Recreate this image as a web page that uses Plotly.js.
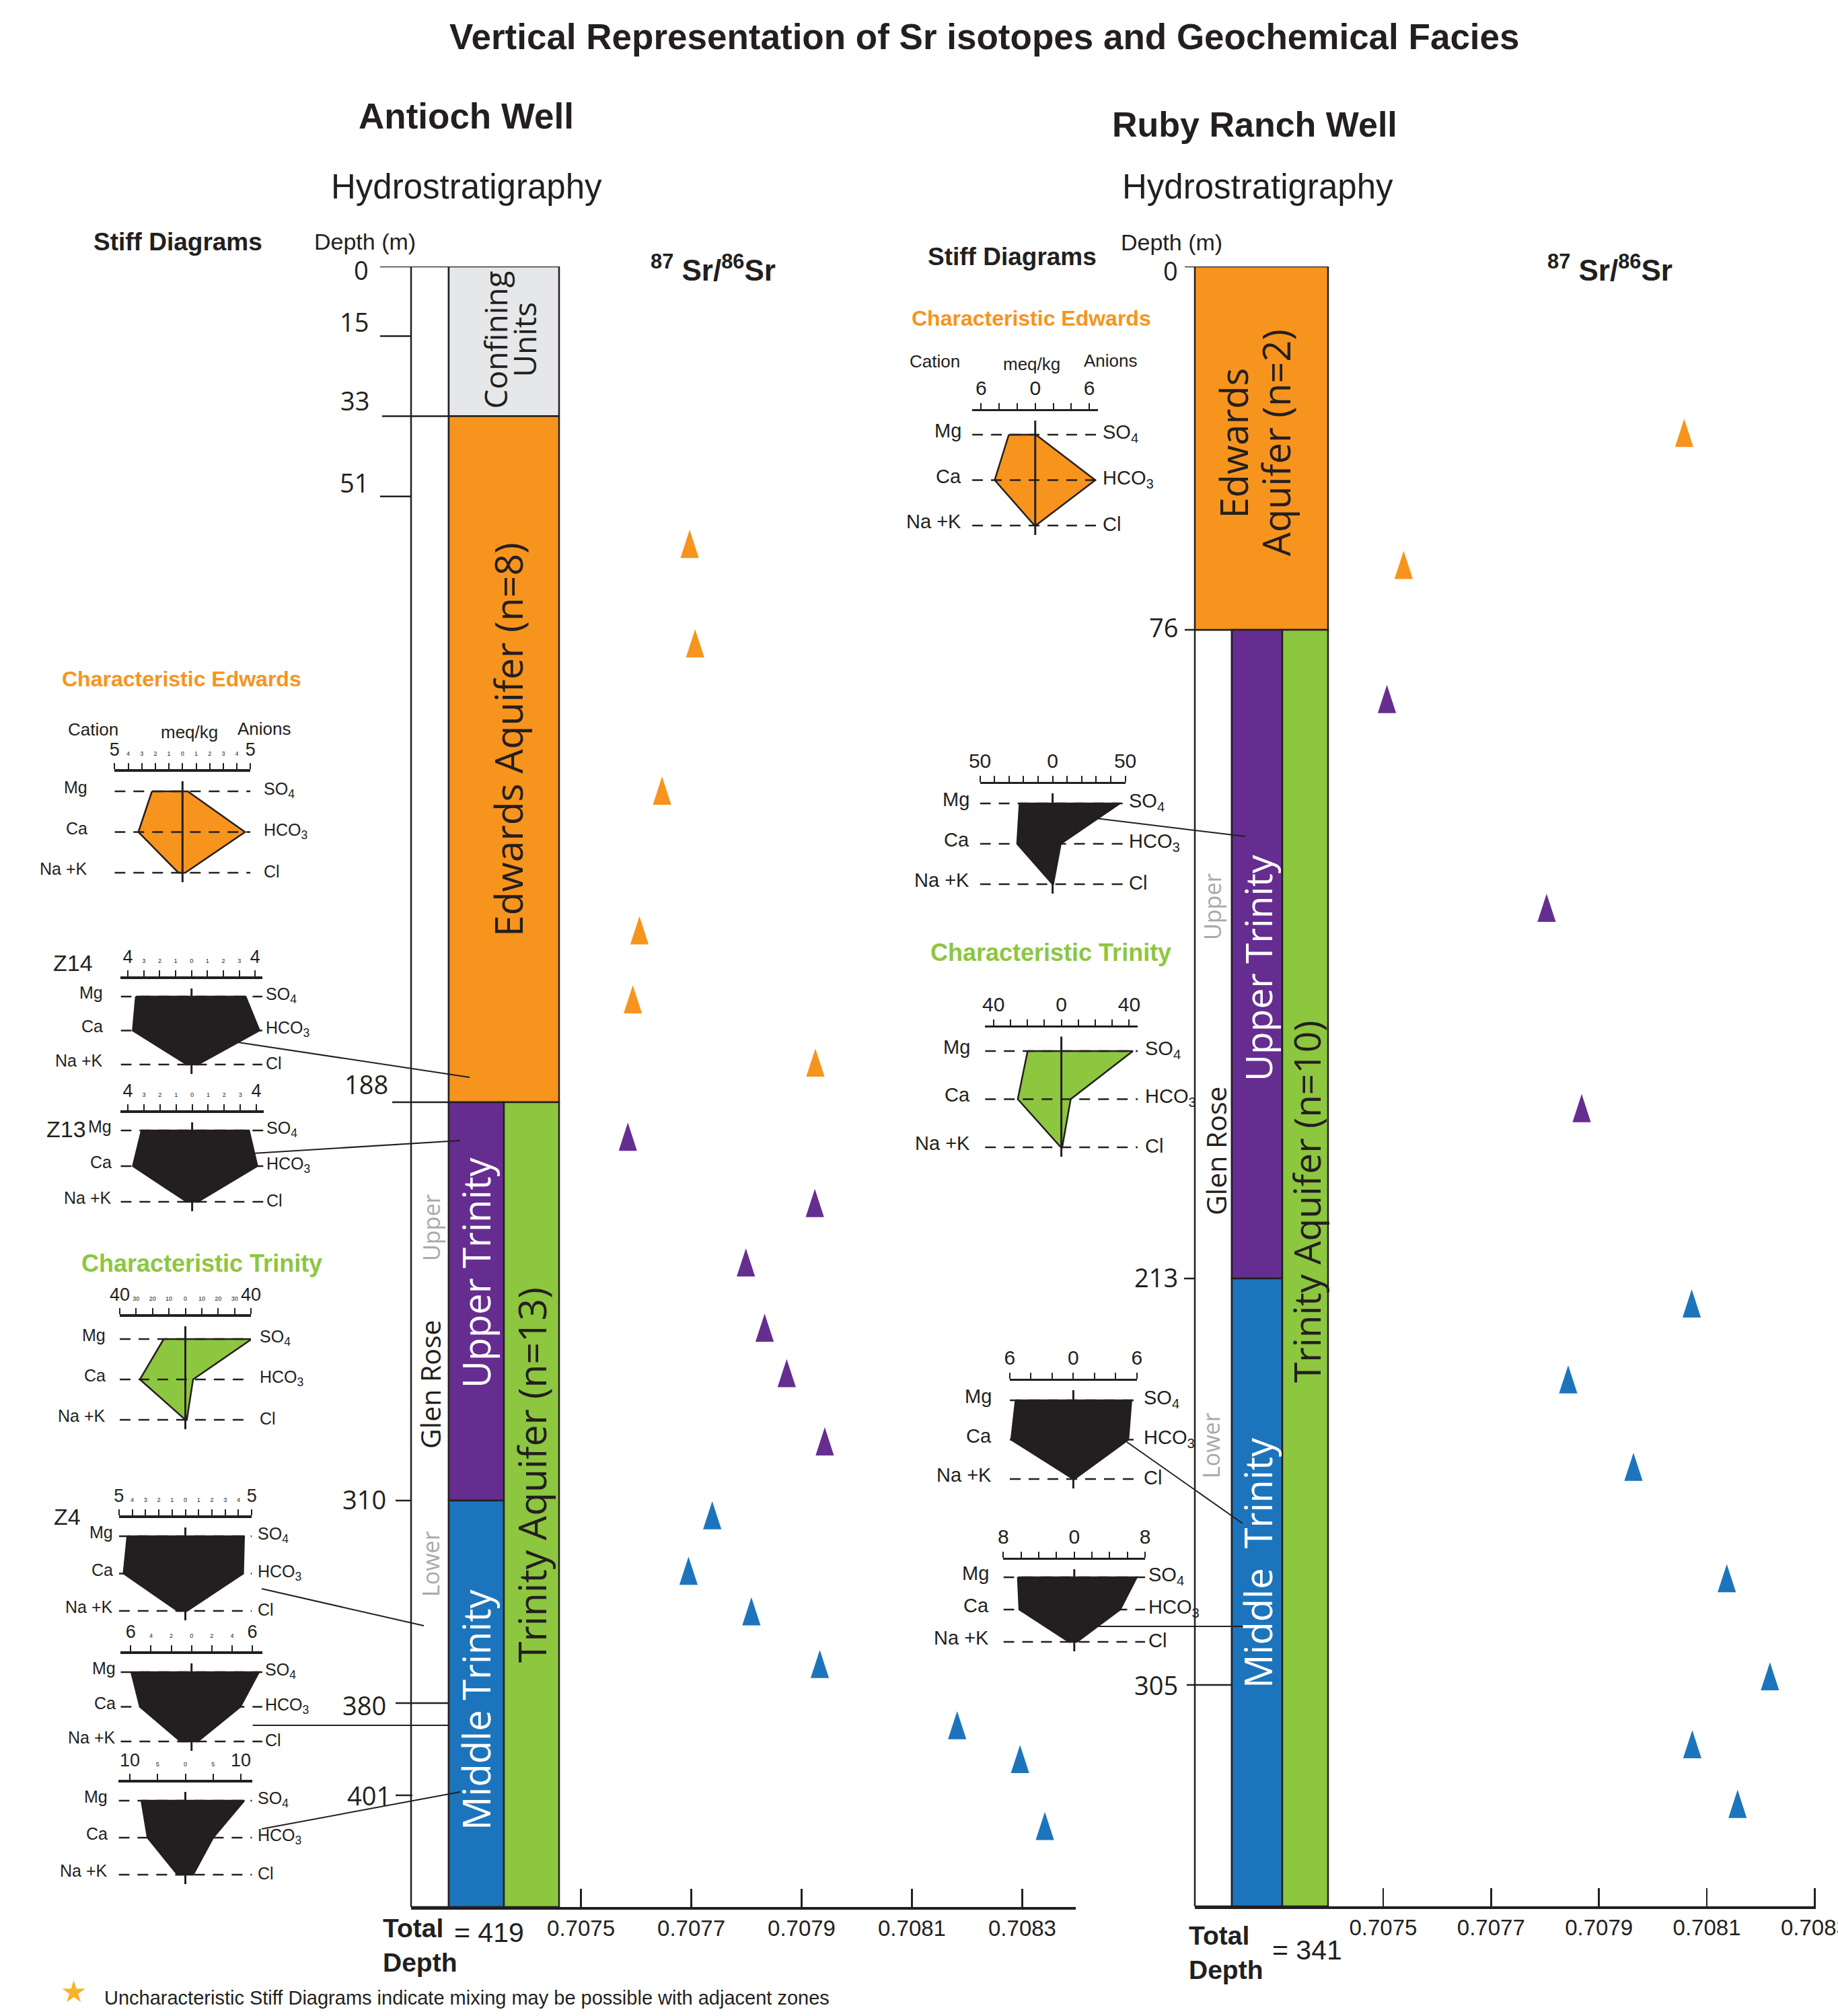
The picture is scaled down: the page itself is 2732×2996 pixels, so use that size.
<!DOCTYPE html>
<html><head><meta charset="utf-8">
<script src="https://cdn.plot.ly/plotly-3.0.1.min.js"></script>
<style>html,body{margin:0;padding:0;background:#fff}</style>
</head><body><div id="chart" style="width:2732px;height:2996px"></div>
<script>
// ================= DATA =================
const srTickValues = [0.7075, 0.7077, 0.7079, 0.7081, 0.7083];

// Antioch Well
const antiochDepthTicks = [0, 15, 33, 51, 188, 310, 380, 401];
const antiochTotalDepth = 419;
const antiochUnitNames = ['Confining<br>Units', 'Edwards Aquifer (n=8)', 'Upper Trinity', 'Middle Trinity', 'Trinity Aquifer (n=13)'];
const antiochUnitTop = [0, 33, 188, 310, 188];
const antiochUnitBase = [33, 188, 310, 419, 419];
const antiochEdwardsSr = [0.707697, 0.707707, 0.707647, 0.707606, 0.707594, 0.707925];
const antiochEdwardsDepth = [62.8, 85.3, 118.6, 150.2, 165.8, 180.1];
const antiochUpperTrinitySr = [0.707585, 0.707924, 0.707799, 0.707833, 0.707873, 0.707942];
const antiochUpperTrinityDepth = [200.0, 220.3, 238.5, 258.5, 272.4, 293.3];
const antiochMiddleTrinitySr = [0.707738, 0.707695, 0.707809, 0.707933, 0.708182, 0.708296, 0.708341];
const antiochMiddleTrinityDepth = [316.7, 335.9, 349.9, 368.1, 386.1, 393.8, 406.7];

// Ruby Ranch Well
const rubyDepthTicks = [0, 76, 213, 305];
const rubyTotalDepth = 341;
const rubyUnitNames = ['Edwards<br>Aquifer (n=2)', 'Upper Trinity', 'Middle  Trinity', 'Trinity Aquifer (n=10)'];
const rubyUnitTop = [0, 76, 213, 76];
const rubyUnitBase = [76, 213, 341, 341];
const rubyEdwardsSr = [0.708058, 0.707538];
const rubyEdwardsDepth = [35.8, 63.4];
const rubyUpperTrinitySr = [0.707507, 0.707803, 0.707868];
const rubyUpperTrinityDepth = [91.6, 135.7, 178.0];
const rubyMiddleTrinitySr = [0.708072, 0.707843, 0.707964, 0.708137, 0.708217, 0.708073, 0.708157];
const rubyMiddleTrinityDepth = [219.7, 236.9, 256.7, 281.9, 304.1, 315.4, 325.1];

// Stiff diagrams (meq/kg). Cations: Mg, Ca, Na+K ; Anions: SO4, HCO3, Cl
const stiffCationNames = ['Mg', 'Ca', 'Na +K'];
const stiffAnionNames = ['SO<sub>4</sub>', 'HCO<sub>3</sub>', 'Cl'];
const antiochStiffNames = ['Characteristic Edwards', 'Z14', 'Z13', 'Characteristic Trinity', 'Z4', '', ''];
const antiochStiffScale = [5, 4, 4, 40, 5, 6, 10];
const antiochStiffCations = [[2.25, 3.25, 0.3], [3.5, 3.69, 0.29], [3.15, 3.69, 0.33], [13.2, 27.7, 0], [4.37, 4.65, 0.58], [5.95, 5.09, 1.07], [7.9, 6.8, 1.4]];
const antiochStiffAnions = [[0.38, 4.6, 0.2], [3.4, 4.27, 0.39], [3.54, 4.06, 0.35], [40.4, 4.7, 0.9], [4.42, 4.35, 0.12], [6.65, 4.82, 0.61], [10.6, 5.0, 1.4]];
const antiochStiffMixing = [false, true, true, false, true, true, true];

const rubyStiffNames = ['Characteristic Edwards', '', 'Characteristic Trinity', '', ''];
const rubyStiffScale = [6, 50, 40, 6, 8];
const rubyStiffCations = [[2.93, 4.5, 0.07], [22.7, 24.4, 0], [19.9, 25.7, 0.3], [5.45, 5.87, 0], [6.37, 6.2, 0.6]];
const rubyStiffAnions = [[0.07, 6.67, 0.05], [46.3, 5.6, 0.4], [42.2, 5.5, 0.5], [5.48, 5.19, 0.1], [7.05, 5.19, 0.3]];
const rubyStiffMixing = [false, false, false, false, false];

// ================= STYLE / LAYOUT =================
const W = 2732, H = 2996;
const X = p => p / W;
const Y = p => 1 - p / H;
const INK = '#231f20', ORANGE = '#f7941d', PURPLE = '#662d91', BLUE = '#1c75bc', GREEN = '#8dc63f', GREYBOX = '#e6e7e8', GREYTEXT = '#a7a9ac';
const NARROW = '"Liberation Sans", Arial, sans-serif';
const SANS = '"Open Sans", "Noto Sans", "DejaVu Sans", sans-serif';

// schematic (non-linear) depth scale of each column, as fraction of column height
const antiochTickFrac = [0, 0.04245, 0.0913, 0.14016, 0.50943, 0.75226, 0.87572, 0.93191, 1];
const rubyTickFrac = [0, 0.22158, 0.61715, 0.865, 1];
function makeDepthScale(depths, fracs) {
  return d => {
    for (let i = 0; i < depths.length - 1; i++) {
      if (d <= depths[i + 1] || i === depths.length - 2) {
        const t = (d - depths[i]) / (depths[i + 1] - depths[i]);
        return fracs[i] + t * (fracs[i + 1] - fracs[i]);
      }
    }
  };
}
const posA = makeDepthScale(antiochDepthTicks.concat([antiochTotalDepth]), antiochTickFrac);
const posR = makeDepthScale(rubyDepthTicks.concat([rubyTotalDepth]), rubyTickFrac);

const colA = {top: 396, bottom: 2834}, colR = {top: 396, bottom: 2833};

const traces = [], shapes = [], annotations = [];
function ann(o) { annotations.push(Object.assign({showarrow: false, xref: 'paper', yref: 'paper', xanchor: 'center', yanchor: 'middle'}, o)); }
function txt(px, py, text, size, family, color, opts) {
  ann(Object.assign({x: X(px), y: Y(py), text, font: {family, size, color: color || INK}}, opts || {}));
}

const xAxisBase = {showline: true, linecolor: INK, linewidth: 3.5, ticks: 'inside', ticklen: 27, tickwidth: 2.5, tickcolor: INK,
  tickvals: srTickValues, ticktext: srTickValues.map(v => v.toFixed(4)), tickangle: 0, ticklabeloverflow: 'allow',
  tickfont: {family: NARROW, size: 33, color: INK}, showgrid: false, zeroline: false, fixedrange: true};
const layout = {
  width: W, height: H, margin: {l: 0, r: 0, t: 0, b: 0},
  paper_bgcolor: '#ffffff', plot_bgcolor: 'rgba(0,0,0,0)', showlegend: false,
  xaxis: Object.assign({}, xAxisBase, {domain: [X(611), X(1599)], range: [0.707192, 0.708397], anchor: 'y'}),
  yaxis: {domain: [Y(colA.bottom), Y(colA.top)], range: [1, 0], anchor: 'x', visible: false, fixedrange: true},
  xaxis2: Object.assign({}, xAxisBase, {domain: [X(1776), X(2699)], range: [0.7071509, 0.7083020], anchor: 'y2'}),
  yaxis2: {domain: [Y(colR.bottom), Y(colR.top)], range: [1, 0], anchor: 'x2', visible: false, fixedrange: true},
};

// ---------- stratigraphic columns ----------
function rect(x0, x1, d0, d1, scale, yref, fill) {
  shapes.push({type: 'rect', xref: 'paper', yref, x0: X(x0), x1: X(x1), y0: scale(d0), y1: scale(d1),
    fillcolor: fill, line: {color: INK, width: 2.5}, layer: 'below'});
}
function unitLabel(name, p) {
  // p = [centre x px, centre y px, font size, colour, line gap px]
  const lines = name.split('<br>');
  lines.forEach((ln, k) => {
    const off = (k - (lines.length - 1) / 2) * p[4];
    txt(p[0] + off, p[1], ln, p[2], SANS, p[3], {textangle: -90});
  });
}
// Antioch
rect(611, 667, 0, antiochTotalDepth, posA, 'y', '#ffffff');
const antiochUnitCols = [[667, 831], [667, 831], [667, 749], [667, 749], [749, 831]];
const antiochUnitFill = [GREYBOX, ORANGE, PURPLE, BLUE, GREEN];
antiochUnitNames.forEach((n, i) => rect(antiochUnitCols[i][0], antiochUnitCols[i][1], antiochUnitTop[i], antiochUnitBase[i], posA, 'y', antiochUnitFill[i]));
// Ruby
rect(1776, 1831, 76, rubyTotalDepth, posR, 'y2', '#ffffff');
const rubyUnitCols = [[1776, 1974], [1831, 1906], [1831, 1906], [1906, 1974]];
const rubyUnitFill = [ORANGE, PURPLE, BLUE, GREEN];
rubyUnitNames.forEach((n, i) => rect(rubyUnitCols[i][0], rubyUnitCols[i][1], rubyUnitTop[i], rubyUnitBase[i], posR, 'y2', rubyUnitFill[i]));

// unit labels (rotated)
const antiochUnitLabelPos = [[757, 505, 46, INK, 43], [755, 1099, 57, INK, 0], [707, 1891, 56, '#ffffff', 0], [707, 2541, 56, '#ffffff', 0], [790, 2192, 57, INK, 0]];
antiochUnitNames.forEach((n, i) => unitLabel(n, antiochUnitLabelPos[i]));
const rubyUnitLabelPos = [[1864, 658, 56, INK, 63], [1869, 1439, 55, '#ffffff', 0], [1869, 2323, 56, '#ffffff', 0], [1941, 1786, 55, INK, 0]];
rubyUnitNames.forEach((n, i) => unitLabel(n, rubyUnitLabelPos[i]));
// formation labels in white column
txt(639, 2057, 'Glen Rose', 41, SANS, INK, {textangle: -90});
txt(641, 1825, 'Upper', 34, SANS, GREYTEXT, {textangle: -90});
txt(640, 2324, 'Lower', 34, SANS, GREYTEXT, {textangle: -90});
txt(1807, 1710, 'Glen Rose', 41, SANS, INK, {textangle: -90});
txt(1802, 1348, 'Upper', 34, SANS, GREYTEXT, {textangle: -90});
txt(1800, 2148, 'Lower', 34, SANS, GREYTEXT, {textangle: -90});

// ---------- depth ticks ----------
const antiochTickStart = [565, 565, 568, 565, 583, 588, 588, 588];
const antiochTickEnd = [611, 611, 667, 611, 667, 611, 667, 613];
const antiochLabelRight = [550, 550, 551, 550, 579, 576, 576, 583];
const antiochLabelShift = [-5, 21, 24, 21, 27, 2, -3, 0];
antiochDepthTicks.forEach((d, i) => {
  shapes.push({type: 'line', xref: 'paper', yref: 'y', x0: X(antiochTickStart[i]), x1: X(antiochTickEnd[i]), y0: posA(d), y1: posA(d), line: {color: INK, width: 2.5}});
  ann({xref: 'paper', yref: 'y', x: X(antiochLabelRight[i]), y: posA(d), xanchor: 'right', yanchor: 'middle', yshift: antiochLabelShift[i],
    text: String(d), font: {family: SANS, size: 38, color: INK}});
});
const rubyTickStart = [1761, 1761, 1760, 1764];
const rubyTickEnd = [1776, 1776, 1776, 1831];
const rubyLabelShift = [-6, 4, 2, 0];
rubyDepthTicks.forEach((d, i) => {
  shapes.push({type: 'line', xref: 'paper', yref: 'y2', x0: X(rubyTickStart[i]), x1: X(rubyTickEnd[i]), y0: posR(d), y1: posR(d), line: {color: INK, width: 2.5}});
  ann({xref: 'paper', yref: 'y2', x: X(1753), y: posR(d), xanchor: 'right', yanchor: 'middle', yshift: rubyLabelShift[i],
    text: String(d), font: {family: SANS, size: 38, color: INK}});
});

// ---------- Sr isotope points (tall triangles) ----------
const ARROW_SIZE = 44, ARROW_TIP = 0.634 * ARROW_SIZE; // centroid-to-apex offset in px
function srTrace(xs, depths, scale, col, color, xa, ya) {
  const h = col.bottom - col.top;
  return {x: xs, y: depths.map(d => scale(d) - ARROW_TIP / h), xaxis: xa, yaxis: ya, type: 'scatter', mode: 'markers',
    marker: {symbol: 'arrow', angle: 0, size: ARROW_SIZE, color, line: {width: 0}}, cliponaxis: false, hoverinfo: 'skip'};
}
traces.push(srTrace(antiochEdwardsSr, antiochEdwardsDepth, posA, colA, ORANGE, 'x', 'y'));
traces.push(srTrace(antiochUpperTrinitySr, antiochUpperTrinityDepth, posA, colA, PURPLE, 'x', 'y'));
traces.push(srTrace(antiochMiddleTrinitySr, antiochMiddleTrinityDepth, posA, colA, BLUE, 'x', 'y'));
traces.push(srTrace(rubyEdwardsSr, rubyEdwardsDepth, posR, colR, ORANGE, 'x2', 'y2'));
traces.push(srTrace(rubyUpperTrinitySr, rubyUpperTrinityDepth, posR, colR, PURPLE, 'x2', 'y2'));
traces.push(srTrace(rubyMiddleTrinitySr, rubyMiddleTrinityDepth, posR, colR, BLUE, 'x2', 'y2'));

// ---------- Stiff diagrams ----------
const antiochStiffLayout = [
  {cx: 271.3, unit: 20.2, half: 5, barY: 1147, rows: [1176, 1236, 1297], step: 1, gapL: 38, gapR: 18},
  {cx: 284.7, unit: 23.65, half: 4.45, barY: 1455, rows: [1481, 1531, 1582], step: 1, gapL: 24, gapR: 3},
  {cx: 285.6, unit: 23.88, half: 4.45, barY: 1654, rows: [1680, 1733, 1786], step: 1, gapL: 11, gapR: 2},
  {cx: 275.5, unit: 2.44, half: 40, barY: 1957, rows: [1990, 2050, 2110], step: 10, gapL: 19, gapR: 11},
  {cx: 275.5, unit: 19.74, half: 5, barY: 2256, rows: [2283, 2338, 2394], step: 1, gapL: 7, gapR: 7},
  {cx: 284.7, unit: 15.06, half: 7, barY: 2458, rows: [2485, 2537, 2588], step: 2, gapL: 5, gapR: 2},
  {cx: 275.5, unit: 8.26, half: 12, barY: 2649, rows: [2676, 2731, 2786], step: 5, gapL: 14, gapR: 6},
];
const rubyStiffLayout = [
  {cx: 1538.75, unit: 13.39, half: 7, barY: 611, rows: [646, 713, 781], step: 2, gapL: 14, gapR: 5},
  {cx: 1564.6, unit: 2.16, half: 50, barY: 1165, rows: [1194, 1254, 1314], step: 10, gapL: 14, gapR: 3},
  {cx: 1577.6, unit: 2.52, half: 45, barY: 1526.5, rows: [1562, 1634, 1705], step: 10, gapL: 20, gapR: 9},
  {cx: 1595.4, unit: 15.74, half: 6, barY: 2052, rows: [2081, 2140, 2198], step: 2, gapL: 25, gapR: 8},
  {cx: 1596.8, unit: 13.17, half: 8, barY: 2318, rows: [2344, 2392, 2440], step: 2, gapL: 19, gapR: 3},
];

let axN = 3;
function stiff(spec, max, cat, an, fill, mixing, isRight) {
  const n = axN++;
  const xa = 'x' + n, ya = 'y' + n;
  const gap = (spec.rows[2] - spec.rows[0]) / 2;
  const yTop = -(spec.rows[0] - spec.barY) / gap;
  const yBot = 2.6;
  const all = [];
  for (let v = -max; v <= max + 1e-9; v += spec.step) all.push(+v.toFixed(6));
  const isEnd = v => Math.abs(Math.abs(v) - max) < 1e-9;
  let tv, tt, minorVals;
  if (isRight) {
    tv = all.filter(v => isEnd(v) || v === 0);
    tt = tv.map(v => isEnd(v) ? String(max) : '0');
    minorVals = all.filter(v => !(isEnd(v) || v === 0));
  } else {
    tv = all;
    tt = all.map(v => isEnd(v) ? String(max) : '<span style="font-size:9px">' + Math.abs(v) + '</span>');
    minorVals = [];
  }
  layout['xaxis' + n] = {domain: [X(spec.cx - spec.half * spec.unit), X(spec.cx + spec.half * spec.unit)], range: [-spec.half, spec.half],
    anchor: ya, side: 'top', showline: true, linecolor: INK, linewidth: isRight ? 3 : 4, ticks: 'outside', ticklen: 9, tickwidth: 2,
    tickcolor: INK, tickvals: tv, ticktext: tt, tickangle: 0, ticklabelstandoff: 0, tickfont: {family: NARROW, size: isRight ? 30 : 27, color: INK},
    minor: {tickmode: 'array', tickvals: minorVals, ticks: 'outside', ticklen: 9, tickwidth: 2, tickcolor: INK, showgrid: false},
    showgrid: false, zeroline: false, fixedrange: true};
  layout['yaxis' + n] = {domain: [Y(spec.rows[0] + yBot * gap), Y(spec.barY)], range: [yBot, yTop], anchor: xa, visible: false, fixedrange: true};
  const base = {xaxis: xa, yaxis: ya, type: 'scatter', mode: 'lines', cliponaxis: false, hoverinfo: 'skip'};
  traces.push(Object.assign({}, base, {x: [-cat[0], -cat[1], -cat[2], an[2], an[1], an[0], -cat[0]], y: [0, 1, 2, 2, 1, 0, 0],
    fill: 'toself', fillcolor: fill, line: {color: INK, width: 2.5}}));
  const h = spec.half;
  traces.push(Object.assign({}, base, {x: [-h, h, null, -h, h, null, -h, h], y: [0, 0, null, 1, 1, null, 2, 2],
    line: {color: INK, width: 2.5, dash: '16px,12px'}}));
  traces.push(Object.assign({}, base, {x: [0, 0], y: [(spec.barY + 14 - spec.rows[0]) / gap, 2 + 14 / gap], line: {color: INK, width: 3}}));
  if (mixing) {
    traces.push(Object.assign({}, base, {mode: 'markers', x: [h + 45 / spec.unit], y: [(spec.barY - 8 - spec.rows[0]) / gap],
      marker: {symbol: 'star', size: 40, color: '#fdc830', line: {color: '#f39a1e', width: 2.5}}}));
  }
  const fs = isRight ? 29 : 25;
  stiffCationNames.forEach((c, i) => ann({xref: xa, yref: ya, x: -h, y: i, xanchor: 'right', yanchor: 'middle', xshift: -spec.gapL, yshift: 6,
    text: c, font: {family: NARROW, size: fs, color: INK}}));
  stiffAnionNames.forEach((c, i) => ann({xref: xa, yref: ya, x: h, y: i, xanchor: 'left', yanchor: 'middle', xshift: spec.gapR, yshift: 2,
    text: c, font: {family: NARROW, size: fs, color: INK}}));
}
const stiffFill = name => name.indexOf('Edwards') >= 0 ? ORANGE : (name.indexOf('Trinity') >= 0 ? GREEN : INK);
antiochStiffLayout.forEach((s, i) => stiff(s, antiochStiffScale[i], antiochStiffCations[i], antiochStiffAnions[i], stiffFill(antiochStiffNames[i]), antiochStiffMixing[i], false));
rubyStiffLayout.forEach((s, i) => stiff(s, rubyStiffScale[i], rubyStiffCations[i], rubyStiffAnions[i], stiffFill(rubyStiffNames[i]), rubyStiffMixing[i], true));

// diagram titles
const charTitleSize = name => name.indexOf('Edwards') >= 0 ? 32 : 36;
const antiochTitlePos = [[270, 1009], [108, 1431], [98, 1678], [300, 1877], [100, 2254], null, null];
antiochStiffNames.forEach((n, i) => {
  if (!n) return; const p = antiochTitlePos[i];
  if (n.startsWith('Char')) txt(p[0], p[1], '<b>' + n + '</b>', charTitleSize(n), NARROW, stiffFill(n));
  else txt(p[0], p[1], n, 34, NARROW, INK);
});
const rubyTitlePos = [[1533, 473], null, [1562, 1415], null, null];
rubyStiffNames.forEach((n, i) => { if (!n) return; const p = rubyTitlePos[i]; txt(p[0], p[1], '<b>' + n + '</b>', charTitleSize(n), NARROW, stiffFill(n)); });
// header of characteristic Edwards diagrams
[[138, 1084, 281, 1088, 393, 1083], [1390, 537, 1533, 541, 1651, 536]].forEach(p => {
  txt(p[0], p[1], 'Cation', 26, NARROW); txt(p[2], p[3], 'meq/kg', 26, NARROW); txt(p[4], p[5], 'Anions', 26, NARROW);
});

// connector lines from diagrams to column
const connectors = [[353.5, 1549, 698, 1601], [376.5, 1714, 684, 1695], [389, 2361, 630, 2416], [375.6, 2564, 666, 2564], [389, 2718, 684, 2663],
  [1620, 1215, 1851, 1243], [1675, 2143, 1847, 2264], [1632, 2417, 1878, 2417]];
connectors.forEach(c => shapes.push({type: 'line', xref: 'paper', yref: 'paper', x0: X(c[0]), y0: Y(c[1]), x1: X(c[2]), y1: Y(c[3]), line: {color: INK, width: 2}}));

// ---------- headings ----------
txt(1463, 55, '<b>Vertical Representation of Sr isotopes and Geochemical Facies</b>', 53, NARROW);
txt(693, 172, '<b>Antioch Well</b>', 53, NARROW);
txt(1865, 185, '<b>Ruby Ranch Well</b>', 52, NARROW);
txt(693, 277, 'Hydrostratigraphy', 51, NARROW);
txt(1869, 277, 'Hydrostratigraphy', 51, NARROW);
txt(264, 359, '<b>Stiff Diagrams</b>', 37, NARROW);
txt(1504, 382, '<b>Stiff Diagrams</b>', 37, NARROW);
txt(542, 359, 'Depth (m)', 34, NARROW);
txt(1742, 360, 'Depth (m)', 34, NARROW);
txt(1060, 398, '<b><sup>87</sup> Sr/<sup>86</sup>Sr</b>', 44, NARROW);
txt(2393, 398, '<b><sup>87</sup> Sr/<sup>86</sup>Sr</b>', 44, NARROW);
// total depth
txt(567, 2891, '<b>Total<br>Depth</b>', 39, NARROW, INK, {xanchor: 'left', align: 'left'});
txt(673, 2872, '= ' + antiochTotalDepth, 41, NARROW, INK, {xanchor: 'left'});
txt(1765, 2902, '<b>Total<br>Depth</b>', 39, NARROW, INK, {xanchor: 'left', align: 'left'});
txt(1889, 2898, '= ' + rubyTotalDepth, 41, NARROW, INK, {xanchor: 'left'});
// footnote
txt(109, 2958, '★', 44, SANS, '#f8b327');
txt(153, 2969, 'Uncharacteristic Stiff Diagrams indicate mixing may be possible with adjacent zones', 29, NARROW, INK, {xanchor: 'left'});

layout.shapes = shapes;
layout.annotations = annotations;
Plotly.newPlot('chart', traces, layout, {displayModeBar: false, staticPlot: true});
</script></body></html>
